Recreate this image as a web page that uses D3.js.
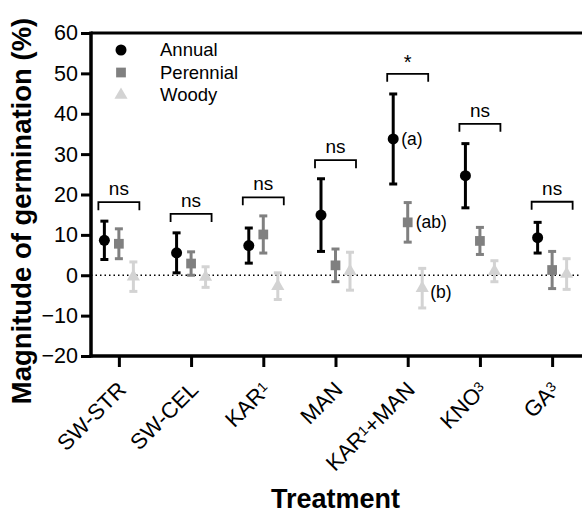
<!DOCTYPE html>
<html>
<head>
<meta charset="utf-8">
<script src="https://cdn.jsdelivr.net/npm/d3@7"></script>
<style>
  html, body { margin: 0; padding: 0; background: #fff; }
  svg { display: block; font-family: "Liberation Sans", Arial, sans-serif; }
</style>
</head>
<body>
<svg id="chart" width="582" height="520"></svg>
<script>
// ---- data ----
const categories = ["SW-STR", "SW-CEL", "KAR1", "MAN", "KAR1+MAN", "KNO3", "GA3"];
const annualMean = [8.65, 5.55, 7.35, 14.9, 33.75, 24.65, 9.3];
const annualErr = [4.75, 4.95, 4.35, 9.0, 11.15, 7.95, 3.8];
const perennialMean = [7.8, 2.9, 10.1, 2.45, 13.1, 8.5, 1.3];
const perennialErr = [3.7, 2.9, 4.6, 4.05, 4.9, 3.35, 4.6];
const woodyMean = [-0.35, -0.45, -2.7, 1.0, -3.2, 1.0, 0.3];
const woodyErr = [3.65, 2.55, 3.3, 4.7, 4.9, 2.6, 3.8];
const sigLabels = ["ns", "ns", "ns", "ns", "*", "ns", "ns"];
const bracketLevel = [18.1, 15.2, 19.3, 28.5, 49.9, 37.5, 18.2];
const yTicks = [-20, -10, 0, 10, 20, 30, 40, 50, 60];
const seriesNames = ["Annual", "Perennial", "Woody"];
const letterCategory = "KAR1+MAN";
const letters = ["(a)", "(ab)", "(b)"];

(function () {
// ---- layout ----
const svg = d3.select("#chart");
const pL = 91, pR = 580, pT = 33, pB = 356;
const x = d3.scalePoint().domain(categories).range([pL, pR]).padding(0.386);
const y = d3.scaleLinear().domain([-20, 60]).range([pB, pT]);
const offsets = [-14.5, 0, 14.5];
const colors = ["#000000", "#808080", "#d3d3d3"];
const shapes = [d3.symbolCircle, d3.symbolSquare, d3.symbolTriangle];
const shapeSizes = [95, 95, 75];

const series = [
  { name: seriesNames[0], mean: annualMean, err: annualErr },
  { name: seriesNames[1], mean: perennialMean, err: perennialErr },
  { name: seriesNames[2], mean: woodyMean, err: woodyErr }
];

// zero line
svg.append("line")
  .attr("x1", pL).attr("x2", pR)
  .attr("y1", y(0)).attr("y2", y(0))
  .attr("stroke", "#000").attr("stroke-width", 1.5)
  .attr("stroke-dasharray", "1.5,3");

// top border
svg.append("line")
  .attr("x1", pL).attr("x2", 582)
  .attr("y1", y(60)).attr("y2", y(60))
  .attr("stroke", "#000").attr("stroke-width", 3);

// y axis
const yAxis = svg.append("g")
  .attr("transform", `translate(${pL},0)`)
  .call(d3.axisLeft(y).tickValues(yTicks).tickSize(10).tickPadding(3).tickSizeOuter(0));
yAxis.select(".domain").attr("stroke-width", 3.5).attr("d", `M0,${pT - 1.5}V${pB + 1.5}`);
yAxis.selectAll(".tick line").attr("stroke-width", 3);
yAxis.selectAll(".tick text")
  .attr("font-size", 21.5).attr("fill", "#000")
  .attr("font-family", "Liberation Sans, Arial, sans-serif");

// x axis
const xAxis = svg.append("g")
  .attr("transform", `translate(0,${pB})`)
  .call(d3.axisBottom(x).tickSize(11).tickSizeOuter(0).tickFormat(""));
xAxis.select(".domain").attr("stroke-width", 3.5).attr("d", `M${pL - 1.5},0H582`);
xAxis.selectAll(".tick line").attr("stroke-width", 3);

// x tick labels with small digits
function labelParts(c) {
  const parts = [];
  const re = /(\d)/g;
  let last = 0, m;
  while ((m = re.exec(c)) !== null) {
    if (m.index > last) parts.push({ t: c.slice(last, m.index), small: false });
    parts.push({ t: m[1], small: true });
    last = m.index + 1;
  }
  if (last < c.length) parts.push({ t: c.slice(last), small: false });
  return parts;
}
categories.forEach(c => {
  const t = svg.append("text")
    .attr("transform", `translate(${x(c) + 8.5},${pB + 35}) rotate(-45)`)
    .attr("text-anchor", "end")
    .attr("font-size", 22);
  const parts = labelParts(c);
  let raised = false;
  parts.forEach(p => {
    const ts = t.append("tspan").text(p.t);
    if (p.small) { ts.attr("font-size", 14).attr("dy", -5); raised = true; }
    else if (raised) { ts.attr("dy", 5); raised = false; }
  });
});

// error bars & markers
series.forEach((s, si) => {
  const g = svg.append("g");
  categories.forEach((c, i) => {
    const cx = x(c) + offsets[si];
    const lo = y(s.mean[i] - s.err[i]), hi = y(s.mean[i] + s.err[i]);
    g.append("line").attr("x1", cx).attr("x2", cx).attr("y1", lo).attr("y2", hi)
      .attr("stroke", colors[si]).attr("stroke-width", 3);
    [lo, hi].forEach(yy => g.append("line")
      .attr("x1", cx - 4).attr("x2", cx + 4).attr("y1", yy).attr("y2", yy)
      .attr("stroke", colors[si]).attr("stroke-width", 3));
    g.append("path")
      .attr("d", d3.symbol().type(shapes[si]).size(shapeSizes[si])())
      .attr("transform", `translate(${cx},${y(s.mean[i])})`)
      .attr("fill", colors[si]);
  });
});

// significance brackets
categories.forEach((c, i) => {
  const cx = x(c), by = y(bracketLevel[i]);
  svg.append("path")
    .attr("d", `M${cx - 20.5},${by + 8}V${by}H${cx + 20.5}V${by + 8}`)
    .attr("fill", "none").attr("stroke", "#000").attr("stroke-width", 1.8);
  svg.append("text")
    .attr("x", cx).attr("y", sigLabels[i] === "*" ? by - 5 : by - 7)
    .attr("text-anchor", "middle")
    .attr("font-size", sigLabels[i] === "*" ? 20 : 19)
    .text(sigLabels[i]);
});

// letters
series.forEach((s, si) => {
  const i = categories.indexOf(letterCategory);
  svg.append("text")
    .attr("x", x(letterCategory) + offsets[si] + 8)
    .attr("y", y(s.mean[i]) + (si === 2 ? 4 : 0))
    .attr("dy", "0.35em")
    .attr("font-size", 17.5)
    .text(letters[si]);
});

// legend
series.forEach((s, si) => {
  const ly = 50 + si * 22.5;
  svg.append("path")
    .attr("d", d3.symbol().type(shapes[si]).size(shapeSizes[si])())
    .attr("transform", `translate(121,${ly})`)
    .attr("fill", colors[si]);
  svg.append("text")
    .attr("x", 160).attr("y", ly).attr("dy", "0.35em")
    .attr("font-size", 18.5)
    .text(s.name);
});

// axis titles
svg.append("text")
  .attr("transform", `translate(31,211) rotate(-90)`)
  .attr("text-anchor", "middle")
  .attr("font-size", 27.5).attr("font-weight", "bold")
  .text("Magnitude of germination (%)");
svg.append("text")
  .attr("x", (pL + pR) / 2).attr("y", 508)
  .attr("text-anchor", "middle")
  .attr("font-size", 27).attr("font-weight", "bold")
  .text("Treatment");
})();
</script>
</body>
</html>
